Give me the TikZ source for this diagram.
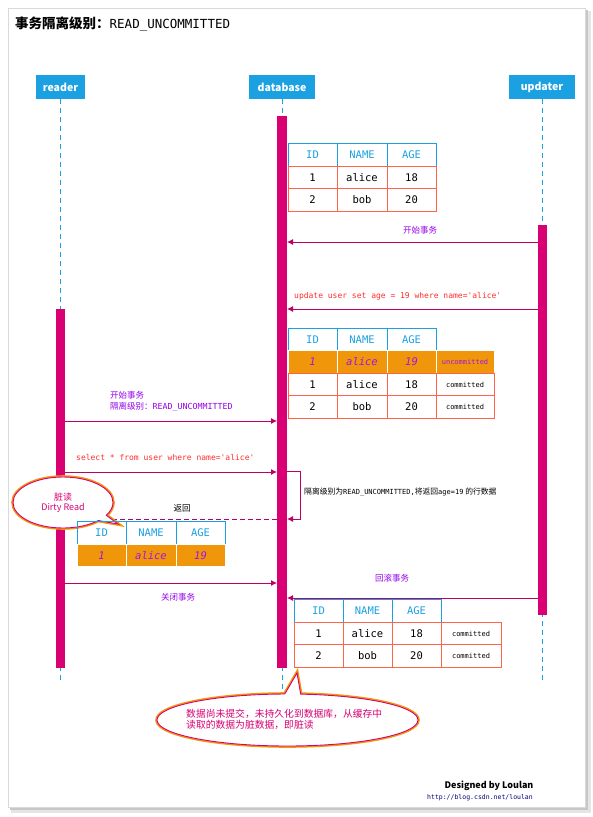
\documentclass[tikz,border=0pt]{standalone}
\usepackage{fontspec}
\setmainfont{Noto Sans CJK SC}
\setmonofont{DejaVu Sans Mono}
\usetikzlibrary{arrows.meta,shapes.callouts,shapes.geometric}
\definecolor{hblue}{RGB}{27,161,226}
\definecolor{barc}{RGB}{216,0,115}
\definecolor{linec}{RGB}{190,0,100}
\definecolor{purp}{RGB}{150,0,235}
\definecolor{redl}{RGB}{255,45,45}
\definecolor{tred}{RGB}{255,100,75}
\definecolor{orangec}{RGB}{240,150,10}
\definecolor{ipurp}{RGB}{160,20,230}
\newcommand{\fs}[1]{\fontsize{#1}{#1}\selectfont}
\begin{document}
\begin{tikzpicture}[x=1pt,y=-1pt,
  head/.style={fill=hblue,text=white,font=\bfseries\fs{10.5},minimum height=24,inner sep=0},
  life/.style={draw=hblue,line width=1,dash pattern=on 5pt off 4pt},
  actbar/.style={fill=barc,draw=none,inner sep=0},
  msg/.style={draw=linec,line width=0.9,-{Latex[length=6pt,width=6pt]}},
  rmsg/.style={msg,dash pattern=on 5pt off 3pt},
  plab/.style={text=purp,font=\fs{8.5},inner sep=0},
  rlab/.style={text=redl,font=\ttfamily\fs{8},inner sep=0,anchor=west},
  th/.style={draw=hblue,line width=0.9,minimum height=23,inner sep=0,text=hblue,font=\ttfamily\fs{10.5}},
  td/.style={draw=tred,line width=0.9,minimum height=22.5,inner sep=0,font=\ttfamily\fs{10.5}},
  tds/.style={td,font=\ttfamily\fs{7}},
  tdo/.style={fill=orangec,draw=white,line width=1,minimum height=22.5,inner sep=0,text=ipurp,font=\ttfamily\itshape\fs{10.5}},
  tdos/.style={tdo,font=\ttfamily\fs{7}},
  bubble/.style={ellipse callout,fill=white,draw=barc,line width=0.9,
     preaction={draw=orangec,line width=3.6},inner sep=0},
  btext/.style={text=barc,inner sep=0}
]
\useasboundingbox (0,0) rectangle (593,817);
% page with shadow
\fill[black!10] (11,11) rectangle (591,813);
\fill[black!22] (10,10) rectangle (588,810);
\fill[white,draw=black!15] (8,8) rectangle (585,807);

% title
\node[anchor=west,inner sep=0] (title) at (15,24)
  {\bfseries\fs{13.5}事务隔离级别：{\mdseries\ttfamily\fs{12.5}READ\_UNCOMMITTED}};

% heads
\node[head,minimum width=49] (reader) at (60.5,87) {reader};
\node[head,minimum width=66] (database) at (282,87) {database};
\node[head,minimum width=66] (updater) at (542,87) {updater};

% lifelines
\coordinate (rend) at (60.5,683);
\coordinate (dend) at (282,692);
\coordinate (uend) at (542.5,683);
\draw[life] (reader.south) -- (rend);
\draw[life] (database.south) -- (dend);
\draw[life] (updater.south -| uend) -- (uend);

% activation bars
\node[actbar,minimum width=9.5,minimum height=359] (rbar) at (60.5,488.5) {};
\node[actbar,minimum width=10,minimum height=552] (dbar) at (282,392) {};
\node[actbar,minimum width=9.5,minimum height=390] (ubar) at (542.5,420) {};

% table 1
\node[th,minimum width=49] (a11) at (312.5,154.5) {ID};
\node[th,minimum width=50] (a12) at (362,154.5) {NAME};
\node[th,minimum width=49] (a13) at (411.5,154.5) {AGE};
\node[td,minimum width=49] (a21) at (312.5,177.25) {1};
\node[td,minimum width=50] (a22) at (362,177.25) {alice};
\node[td,minimum width=49] (a23) at (411.5,177.25) {18};
\node[td,minimum width=49] (a31) at (312.5,199.75) {2};
\node[td,minimum width=50] (a32) at (362,199.75) {bob};
\node[td,minimum width=49] (a33) at (411.5,199.75) {20};

% updater begins transaction
\coordinate (m1s) at (538,242);
\coordinate (m1e) at (287,242);
\draw[msg] (m1s) -- (m1e);
\node[plab] (l1) at (420,230) {开始事务};

% update statement
\coordinate (m2s) at (538,309);
\coordinate (m2e) at (287,309);
\draw[msg] (m2s) -- (m2e);
\node[rlab] (l2) at (294,296) {update user set age = 19 where name='alice'};

% table 2
\node[th,minimum width=49] (b11) at (312.5,339.5) {ID};
\node[th,minimum width=50] (b12) at (362,339.5) {NAME};
\node[th,minimum width=49] (b13) at (411.5,339.5) {AGE};
\node[tdo,minimum width=49] (b21) at (312.5,362) {1};
\node[tdo,minimum width=50] (b22) at (362,362) {alice};
\node[tdo,minimum width=49] (b23) at (411.5,362) {19};
\node[tdos,minimum width=58] (b24) at (465,362) {uncommitted};
\node[td,minimum width=49] (b31) at (312.5,384.5) {1};
\node[td,minimum width=50] (b32) at (362,384.5) {alice};
\node[td,minimum width=49] (b33) at (411.5,384.5) {18};
\node[tds,minimum width=58] (b34) at (465,384.5) {committed};
\node[td,minimum width=49] (b41) at (312.5,407) {2};
\node[td,minimum width=50] (b42) at (362,407) {bob};
\node[td,minimum width=49] (b43) at (411.5,407) {20};
\node[tds,minimum width=58] (b44) at (465,407) {committed};

% reader begins transaction
\coordinate (m3s) at (65,421);
\coordinate (m3e) at (277,421);
\draw[msg] (m3s) -- (m3e);
\node[plab,anchor=north west,align=left] (l3) at (110,391)
  {开始事务\\[2.5pt]隔离级别：{\ttfamily\fs{8.3}READ\_UNCOMMITTED}};

% select
\coordinate (m4s) at (65,472);
\coordinate (m4e) at (277,472);
\draw[msg] (m4s) -- (m4e);
\node[rlab] (l4) at (76,457) {select * from user where name='alice'};

% self loop
\coordinate (s1) at (287,471);
\coordinate (s2) at (300,471);
\coordinate (s3) at (300,519);
\coordinate (s4) at (287,519);
\draw[msg] (s1) -- (s2) -- (s3) -- (s4);
\node[anchor=west,inner sep=0,font=\fs{7.8}] (l5) at (304,492)
  {隔离级别为{\ttfamily\fs{7}READ\_UNCOMMITTED,}将返回{\ttfamily\fs{7}age=19} 的行数据};

% return
\coordinate (m6s) at (277,519);
\coordinate (m6e) at (65,519);
\draw[rmsg] (m6s) -- (m6e);
\node[inner sep=0,font=\fs{8.5}] (l6) at (182,508) {返回};

% dirty read bubble
\coordinate (p1) at (118,524);
\node[bubble,minimum width=100,minimum height=51,
  callout absolute pointer={(p1)}] (dirty) at (63,502.5) {};
\node[btext,align=center,font=\fs{9}] (dirtyt) at (dirty.center) {脏读\\[1.5pt]Dirty Read};

% table 3
\node[th,minimum width=49] (c11) at (101.5,532.5) {ID};
\node[th,minimum width=50] (c12) at (151,532.5) {NAME};
\node[th,minimum width=49] (c13) at (200.5,532.5) {AGE};
\node[tdo,minimum width=49] (c21) at (101.5,555.5) {1};
\node[tdo,minimum width=50] (c22) at (151,555.5) {alice};
\node[tdo,minimum width=49] (c23) at (200.5,555.5) {19};

% close transaction
\coordinate (m7s) at (65,583);
\coordinate (m7e) at (277,583);
\draw[msg] (m7s) -- (m7e);
\node[plab] (l7) at (178,597) {关闭事务};

% rollback
\coordinate (m8s) at (538,598);
\coordinate (m8e) at (287,598);
\draw[msg] (m8s) -- (m8e);
\node[plab] (l8) at (392,578) {回滚事务};

% table 4
\node[th,minimum width=49] (d11) at (318.5,611) {ID};
\node[th,minimum width=49] (d12) at (367.5,611) {NAME};
\node[th,minimum width=49] (d13) at (416.5,611) {AGE};
\node[td,minimum width=49] (d21) at (318.5,633.5) {1};
\node[td,minimum width=49] (d22) at (367.5,633.5) {alice};
\node[td,minimum width=49] (d23) at (416.5,633.5) {18};
\node[tds,minimum width=60] (d24) at (471,633.5) {committed};
\node[td,minimum width=49] (d31) at (318.5,656) {2};
\node[td,minimum width=49] (d32) at (367.5,656) {bob};
\node[td,minimum width=49] (d33) at (416.5,656) {20};
\node[tds,minimum width=60] (d34) at (471,656) {committed};

% bottom bubble
\coordinate (p2) at (297,673);
\node[bubble,minimum width=261,minimum height=52,
  callout pointer arc=7,
  callout absolute pointer={(p2)}] (note) at (287.5,720) {};
\node[btext,align=left,font=\fs{9.8},anchor=west] (notet) at (186,719.5)
  {数据尚未提交，未持久化到数据库，从缓存中\\[1pt]读取的数据为脏数据，即脏读};

% signature
\node[inner sep=0,font=\bfseries\fs{9}] (sig) at (489,786) {Designed by Loulan};
\node[inner sep=0,font=\ttfamily\fs{6.5},text=blue!50!black] (url) at (480,798) {http://blog.csdn.net/loulan};
\end{tikzpicture}
\end{document}
